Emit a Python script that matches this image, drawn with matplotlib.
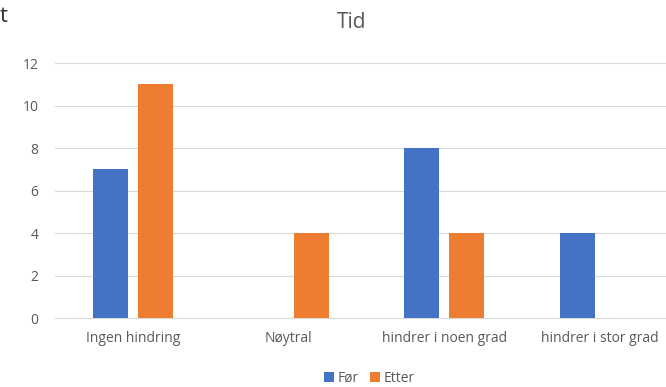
import matplotlib.pyplot as plt
import numpy as np

categories = ['Ingen hindring', 'Nøytral', 'hindrer i noen grad', 'hindrer i stor grad']
for_vals = [7, 0, 8, 4]
etter_vals = [11, 4, 4, 0]
series = ['Før', 'Etter']
colors = ['#4472C4', '#ED7D31']

plt.rcParams['font.family'] = ['Open Sans', 'DejaVu Sans']
txt = '#595959'

fig = plt.figure(figsize=(6.66, 3.87), dpi=100)
ax = fig.add_axes([0.0826, 0.178, 0.935, 0.659])

x = np.arange(len(categories))
w = 0.225
off = 0.145
ax.bar(x - off, for_vals, w, color=colors[0], label=series[0], zorder=3)
ax.bar(x + off, etter_vals, w, color=colors[1], label=series[1], zorder=3)

ax.set_xlim(-0.5, len(categories) - 0.5)
ax.set_ylim(0, 12)
ax.set_yticks(range(0, 13, 2))
ax.set_xticks(x)
ax.set_xticklabels(categories)
ax.grid(axis='y', color='#d9d9d9', linewidth=0.8, zorder=0)
for s in ['top', 'right', 'left']:
    ax.spines[s].set_visible(False)
ax.spines['bottom'].set_color('#d9d9d9')
ax.tick_params(axis='both', length=0, colors=txt, labelsize=10)
ax.tick_params(axis='x', pad=9)
ax.tick_params(axis='y', pad=12)

fig.text(0.5285, 0.943, 'Tid', ha='center', va='center', fontsize=15, color=txt)
fig.text(0.0, 0.957, 't', ha='left', va='center', fontsize=16, color='#333333')

ax.legend(loc='center', bbox_to_anchor=(0.505, -0.235), ncol=2, frameon=False,
          fontsize=10, labelcolor=txt, handlelength=0.7, handleheight=0.7, handletextpad=0.3,
          columnspacing=0.8)

fig.savefig('out.png', dpi=100)
